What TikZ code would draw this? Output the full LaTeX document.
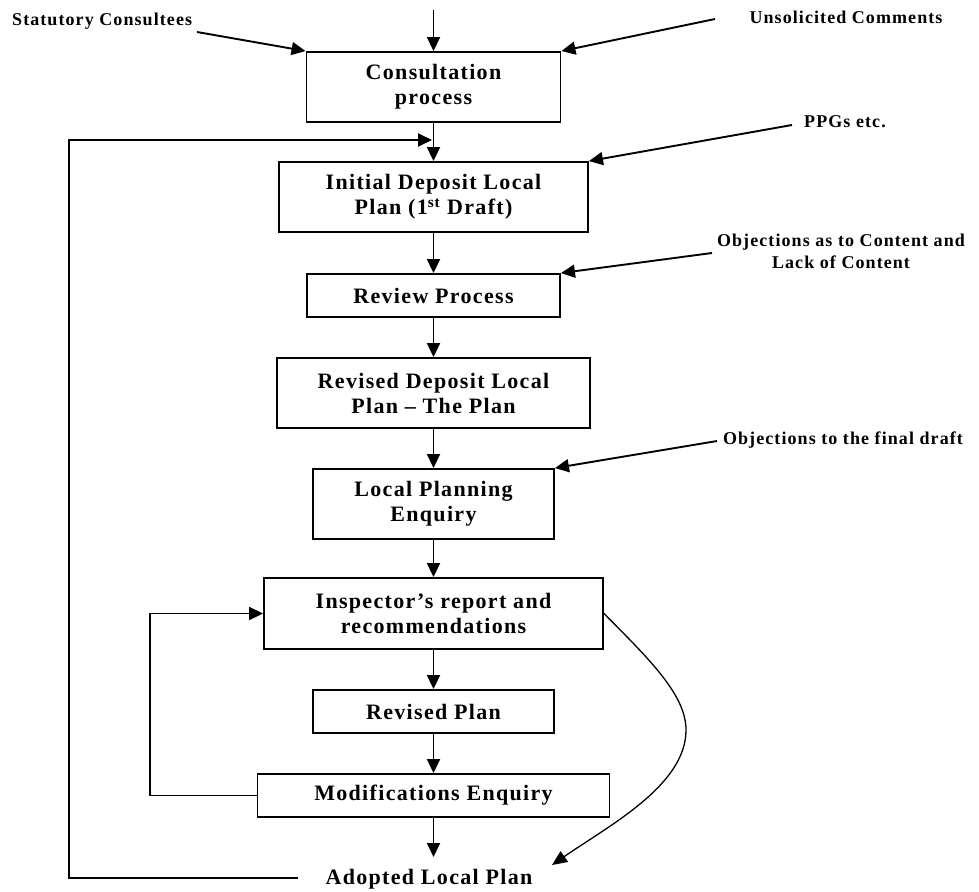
\documentclass[tikz,border=0pt]{standalone}
\usepackage{fontspec}
\setmainfont{Liberation Serif}
\newfontfamily\boxfont{Liberation Serif}[LetterSpace=6]
\newfontfamily\labelfont{Liberation Serif}[LetterSpace=6]
\usetikzlibrary{arrows.meta}
\begin{document}
\begin{tikzpicture}[x=1pt,y=-1pt,
  stage/.style={draw, line width=1.9pt, align=center, inner sep=0pt,
    font=\boxfont\bfseries\fontsize{22}{25}\selectfont},
  lbl/.style={inner sep=0pt, align=center,
    font=\labelfont\bfseries\fontsize{18}{22}\selectfont},
  arr/.style={line width=1.9pt, -{Triangle[length=14pt,width=13pt]}},
  curvearr/.style={line width=1.3pt, -{Triangle[length=15pt,width=13pt]}}
]
\useasboundingbox (0,0) rectangle (979,891);

% main column of stages
\node[stage, minimum width=254pt, minimum height=70pt] (cons)  at (433.5,87)    {Consultation\\process};
\node[stage, minimum width=309pt, minimum height=70pt] (init)  at (433.5,197)   {Initial Deposit Local\\Plan (1\textsuperscript{st} Draft)};
\node[stage, minimum width=253pt, minimum height=43pt] (rev)   at (433.5,295.5) {Review Process};
\node[stage, minimum width=313pt, minimum height=70pt] (revd)  at (433.5,393)   {Revised Deposit Local\\Plan – The Plan};
\node[stage, minimum width=241pt, minimum height=70pt] (lpe)   at (433.5,504)   {Local Planning\\Enquiry};
\node[stage, minimum width=339pt, minimum height=71pt] (insp)  at (433.5,613.5) {Inspector’s report and\\recommendations};
\node[stage, minimum width=241pt, minimum height=43pt] (rplan) at (433.5,711.5) {Revised Plan};
\node[stage, minimum width=352pt, minimum height=43pt] (mod)   at (433.5,795.5) {Modifications Enquiry};
\node[stage, draw=none, anchor=base] (adopted) at (429,884) {Adopted Local Plan};

% outside inputs
\node[lbl, anchor=west] (stat)  at (12,21)   {Statutory Consultees};
\node[lbl] (unsol) at (846,17)  {Unsolicited Comments};
\node[lbl] (ppg)   at (845,122) {PPGs etc.};
\node[lbl] (objc)  at (841,251) {Objections as to Content and\\Lack of Content};
\node[lbl] (objf)  at (843,440) {Objections to the final draft};

\coordinate (start)    at (433.5,10);
\coordinate (adoptin)  at (433.5,857);
\coordinate (statout)  at (197,32);
\coordinate (unsolout) at (715,19);
\coordinate (ppgout)   at (792,125);
\coordinate (objcout)  at (712,253);
\coordinate (objfout)  at (717,441);
\coordinate (fbstart)  at (298,878);
\coordinate (fbtop)    at (69,140);
\coordinate (fbend)    at (432,140);
\coordinate (fbx)      at (150,0);
\coordinate (curveend) at (552,865);

% straight flow down the column
\draw[arr] (start) -- (cons.north);
\draw[arr] (cons.south) -- (init.north);
\draw[arr] (init.south) -- (rev.north);
\draw[arr] (rev.south) -- (revd.north);
\draw[arr] (revd.south) -- (lpe.north);
\draw[arr] (lpe.south) -- (insp.north);
\draw[arr] (insp.south) -- (rplan.north);
\draw[arr] (rplan.south) -- (mod.north);
\draw[arr] (mod.south) -- (adoptin);

% inputs from outside
\draw[arr] (statout)  -- (cons.north west);
\draw[arr] (unsolout) -- (cons.north east);
\draw[arr] (ppgout)   -- (init.north east);
\draw[arr] (objcout)  -- (rev.north east);
\draw[arr] (objfout)  -- (lpe.north east);

% loops back
\draw[arr] (fbstart) -| (fbtop) -- (fbend);
\draw[arr] (mod.west) -- (mod.west -| fbx) |- (insp.west);

% direct route from the report to adoption
\draw[curvearr] (insp.east) .. controls (650,660) and (686,695) .. (686,730)
  .. controls (686,785) and (610,825) .. (curveend);
\end{tikzpicture}
\end{document}
